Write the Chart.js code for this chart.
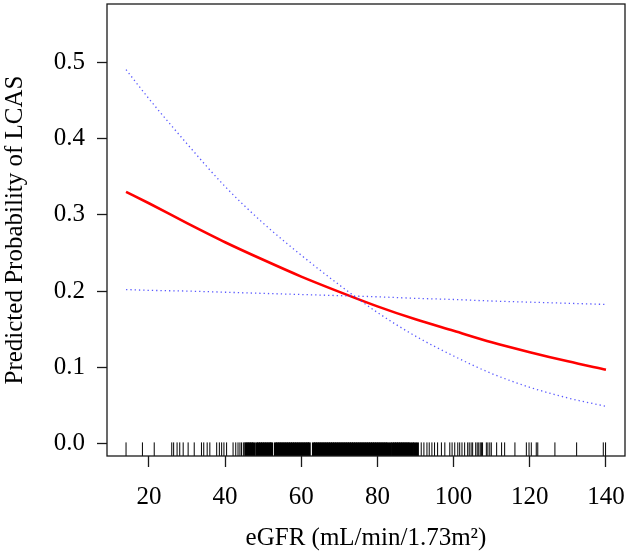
<!DOCTYPE html>
<html>
<head>
<meta charset="utf-8">
<script src="https://cdn.jsdelivr.net/npm/chart.js@4/dist/chart.umd.min.js"></script>
<style>
html,body{margin:0;padding:0;background:#fff;}
#wrap{width:630px;height:557px;}
</style>
</head>
<body>
<div id="wrap"><canvas id="c" width="630" height="557"></canvas></div>
<script>
// eGFR grid at which curves were read
const egfr = [14, 20, 30, 40, 50, 60, 70, 80, 90, 100, 110, 120, 130, 140];
// predicted probability (red solid)
const predicted = [0.330, 0.315, 0.289, 0.264, 0.241, 0.219, 0.199, 0.180, 0.163, 0.148, 0.133, 0.120, 0.108, 0.097];
// confidence bounds (blue dotted)
const boundSteep = [0.490, 0.452, 0.393, 0.337, 0.289, 0.247, 0.208, 0.172, 0.141, 0.115, 0.092, 0.074, 0.060, 0.049];
const boundFlat = [0.202, 0.201, 0.200, 0.1985, 0.197, 0.1955, 0.194, 0.1925, 0.1905, 0.189, 0.187, 0.1855, 0.184, 0.1825];
// rug of observed eGFR values
const rugSparse = [14.0, 18.3, 21.4, 26.0, 26.5, 27.4, 28.1, 29.0, 30.3, 31.9, 33.8, 34.4, 35.3, 36.0, 37.8, 38.5, 39.1, 39.7, 40.4, 42.1, 42.8, 43.4, 43.9, 44.3, 44.8, 45.2, 91.5, 92.2, 93.0, 93.6, 94.3, 95.0, 95.8, 96.8, 97.7, 99.0, 99.6, 100.3, 101.1, 101.6, 102.2, 102.9, 103.7, 104.1, 104.6, 105.0, 105.8, 106.2, 106.6, 107.0, 107.3, 107.6, 108.6, 109.0, 109.5, 109.9, 111.3, 112.6, 113.4, 116.1, 119.1, 119.8, 120.4, 121.7, 122.1, 126.6, 132.3, 139.3, 139.9];
const rugDense = [45.5, 46, 46.5, 47, 47.5, 48.3, 48.8, 49.3, 49.8, 50.3, 50.8, 51.3, 51.8, 52.2, 53.2, 53.7, 54.2, 54.7, 55.2, 55.7, 56.2, 56.7, 57.2, 57.7, 58.2, 58.7, 59.2, 59.7, 60.2, 60.7, 61.2, 61.7, 62.1, 63.2, 63.7, 64.2, 64.7, 65.2, 65.7, 66.2, 66.7, 67.2, 67.7, 68.2, 68.7, 69.2, 69.7, 70.2, 70.7, 71.2, 71.7, 72.2, 72.7, 73.2, 73.7, 74.2, 74.7, 75.2, 75.7, 76.2, 76.7, 77.2, 77.7, 78.2, 78.7, 79.2, 79.7, 80.2, 80.7, 81.2, 81.7, 82.2, 82.7, 83.4, 84.0, 84.5, 85.0, 85.5, 86.0, 86.5, 87.0, 87.5, 88.0, 88.5, 89.2, 89.8, 90.5];
const rugLevel = -0.0071;
const xTicks = [20, 40, 60, 80, 100, 120, 140];
const yTicks = [0.0, 0.1, 0.2, 0.3, 0.4, 0.5];

const pts = (xs, ys) => xs.map((x, i) => ({x: x, y: ys[i]}));
const rugPts = xs => xs.map(x => ({x: x, y: rugLevel}));

const FONT = "'Liberation Serif', 'Times New Roman', serif";

const framePlugin = {
  id: 'frame',
  afterDatasetsDraw(chart) {
    const a = chart.chartArea, ctx = chart.ctx;
    ctx.save();
    ctx.strokeStyle = '#1a1a1a';
    ctx.lineWidth = 1.3;
    ctx.strokeRect(a.left, a.top, a.right - a.left, a.bottom - a.top);
    ctx.restore();
  }
};

const lineDs = (data, color, width, dash) => ({
  data: data, showLine: true, borderColor: color, borderWidth: width,
  borderDash: dash, pointRadius: 0, cubicInterpolationMode: 'monotone', fill: false
});
const rugDs = (data, w) => ({
  data: data, showLine: false, pointStyle: 'line', rotation: 90,
  pointRadius: 6.8, pointBorderWidth: w, pointBorderColor: '#000',
  pointBackgroundColor: '#000', pointHoverRadius: 6.8
});

new Chart(document.getElementById('c'), {
  type: 'scatter',
  data: {
    datasets: [
      rugDs(rugPts(rugSparse), 1),
      rugDs(rugPts(rugDense), 3),
      lineDs(pts(egfr, boundFlat), 'rgba(60,60,255,0.85)', 1.3, [1.3, 3]),
      lineDs(pts(egfr, boundSteep), 'rgba(60,60,255,0.85)', 1.3, [1.3, 3]),
      lineDs(pts(egfr, predicted), '#ff0000', 2.6, [])
    ]
  },
  options: {
    responsive: false,
    animation: false,
    events: [],
    layout: {autoPadding: false, padding: {top: 4, right: 5, left: 0, bottom: 0}},
    plugins: {legend: {display: false}, tooltip: {enabled: false}},
    scales: {
      x: {
        type: 'linear', min: 9, max: 145,
        afterBuildTicks: s => { s.ticks = xTicks.map(v => ({value: v})); },
        afterFit: s => { s.height = 101; s.paddingLeft = 0; s.paddingRight = 0; s.paddingTop = 0; s.paddingBottom = 0; },
        border: {display: false},
        grid: {drawOnChartArea: false, drawTicks: true, tickLength: 11, tickColor: '#1a1a1a', tickWidth: 1.3},
        ticks: {color: '#000', font: {family: FONT, size: 25}, padding: 15, maxRotation: 0,
                callback: v => String(v)},
        title: {display: true, text: 'eGFR (mL/min/1.73m²)', color: '#000',
                font: {family: FONT, size: 25}, padding: {top: 4, bottom: 4}}
      },
      y: {
        type: 'linear', min: -0.016, max: 0.576,
        afterBuildTicks: s => { s.ticks = yTicks.map(v => ({value: v})); },
        afterFit: s => { s.width = 107; s.paddingLeft = 0; s.paddingRight = 0; s.paddingTop = 0; s.paddingBottom = 0; },
        border: {display: false},
        grid: {drawOnChartArea: false, drawTicks: true, tickLength: 10, tickColor: '#1a1a1a', tickWidth: 1.3},
        ticks: {color: '#000', font: {family: FONT, size: 25}, padding: 12,
                callback: v => v.toFixed(1)},
        title: {display: true, text: 'Predicted Probability of LCAS', color: '#000',
                font: {family: FONT, size: 25}, padding: {top: 0, bottom: 0}}
      }
    }
  },
  plugins: [framePlugin]
});
</script>
</body>
</html>
